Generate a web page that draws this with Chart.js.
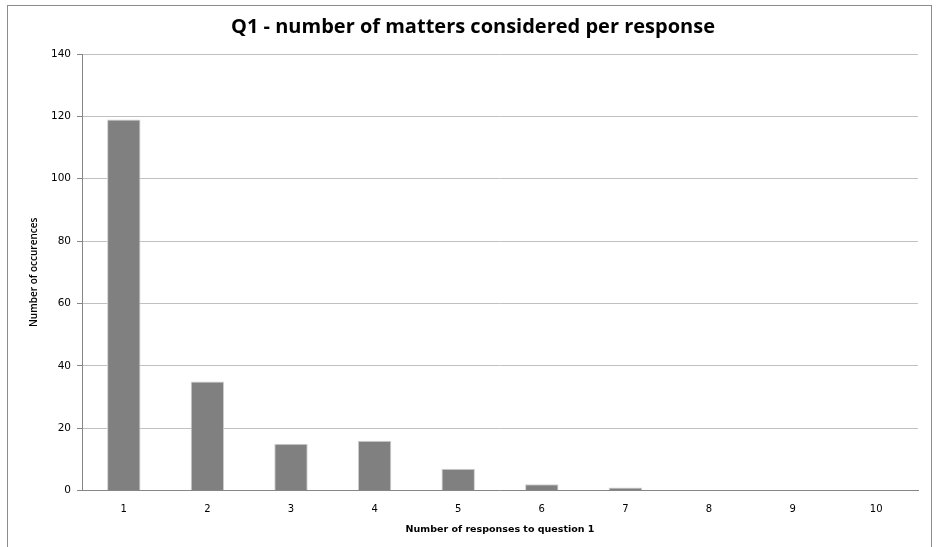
<!DOCTYPE html>
<html><head><meta charset="utf-8">
<script src="https://cdn.jsdelivr.net/npm/chart.js@4/dist/chart.umd.min.js"></script>
<style>html,body{margin:0;padding:0;background:#fff}#wrap{width:940px;height:547px;position:relative}</style>
</head><body><div id="wrap"><canvas id="c" width="940" height="547"></canvas></div>
<script>
const categories = ["1","2","3","4","5","6","7","8","9","10"];
const occurrences = [119, 35, 15, 16, 7, 2, 1, 0, 0, 0];
const chartTitle = "Q1 - number of matters considered per response";
const xTitle = "Number of responses to question 1";
const yTitle = "Number of occurences";

const frame = {
  id: 'frame',
  beforeDraw(chart) {
    const ctx = chart.ctx;
    ctx.save();
    ctx.fillStyle = '#fff';
    ctx.fillRect(0, 0, chart.width, chart.height);
    ctx.strokeStyle = '#8c8c8c';
    ctx.lineWidth = 1;
    ctx.strokeRect(7.5, 5.5, 924, 600);
    ctx.restore();
  }
};

new Chart(document.getElementById('c'), {
  type: 'bar',
  data: {
    labels: categories,
    datasets: [{
      data: occurrences,
      backgroundColor: '#808080',
      borderColor: '#d0d0d0',
      borderWidth: 1,
      categoryPercentage: 1,
      barPercentage: 0.4
    }]
  },
  options: {
    responsive: false,
    animation: false,
    layout: { padding: { left: 28, right: 22, top: 8, bottom: 12 } },
    plugins: {
      legend: { display: false },
      tooltip: { enabled: false },
      title: {
        display: true, text: chartTitle, color: '#000',
        font: { family: 'Open Sans', size: 20, weight: 'bold' },
        padding: { top: 7, bottom: 15 }
      }
    },
    scales: {
      x: {
        grid: { display: false, drawTicks: false },
        border: { color: '#868686' },
        ticks: { color: '#000', font: { family: 'DejaVu Sans', size: 10 }, padding: 13, maxRotation: 0 },
        title: { display: true, text: xTitle, color: '#000', font: { family: 'DejaVu Sans', size: 9.5, weight: 'bold' }, padding: { top: -5, bottom: 0 } }
      },
      y: {
        min: 0, max: 140,
        afterFit(s) { s.width = 54; },
        grid: { color: '#c0c0c0', tickLength: 5, tickColor: '#868686' },
        border: { color: '#868686' },
        ticks: { stepSize: 20, color: '#000', font: { family: 'DejaVu Sans', size: 10.5 }, padding: 6 },
        title: { display: true, text: yTitle, color: '#000', font: { family: 'Open Sans', size: 10, weight: '600' }, padding: 0 }
      }
    }
  },
  plugins: [frame]
});
</script></body></html>
